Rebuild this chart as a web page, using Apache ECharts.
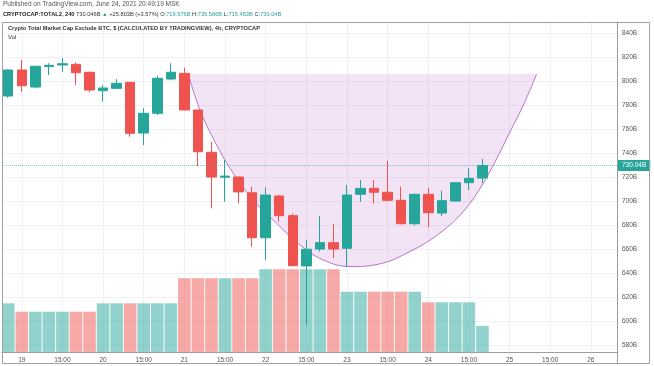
<!DOCTYPE html>
<html><head><meta charset="utf-8">
<script src="https://cdn.jsdelivr.net/npm/echarts@6/dist/echarts.min.js"></script>
<style>html,body{margin:0;padding:0;background:#fff}#c{width:654px;height:366px}</style>
</head><body><div id="c"></div>
<script>
// ---- data (4h bars, index 0 = first bar of Jun 19) ----
const barIndex = [-1,0,1,2,3,4,5,6,7,8,9,10,11,12,13,14,15,16,17,18,19,20,21,22,23,24,25,26,27,28,29,30,31,32,33,34];
const opens  = [787.9,809.6,795.4,812.5,813.8,814.3,807.7,792.3,794.3,799.3,757.1,773.5,802.1,806.8,776.3,741.0,720.3,720.4,707.3,669.8,704.6,688.2,646.3,660.4,665.7,661.0,706.0,711.0,707.7,701.0,681.5,706.0,690.4,700.4,715.7,719.58];
const closes = [809.6,796.5,812.7,813.5,814.8,807.3,792.9,794.6,798.5,756.8,773.5,802.7,807.7,776.3,741.5,720.4,721.2,708.0,669.8,705.4,688.2,646.5,660.2,665.7,660.4,705.4,711.0,707.7,701.0,681.5,706.0,690.7,700.7,715.7,719.3,730.05];
const lows   = [786.5,791.5,794.3,805.4,807.9,797.1,791.0,783.2,794.3,754.0,747.1,772.0,801.0,776.0,729.6,694.3,699.8,698.5,662.3,651.3,683.2,646.0,597.0,658.2,652.7,645.7,699.8,698.5,700.0,681.0,680.0,678.5,687.9,700.0,709.6,715.45];
const highs  = [810.0,817.9,813.2,815.2,819.6,816.0,808.2,797.1,802.0,799.5,777.7,804.8,815.2,811.5,776.3,749.8,734.6,721.0,712.3,711.8,705.4,690.0,667.9,687.9,681.3,713.8,717.9,717.9,734.0,712.3,706.5,711.5,709.0,716.0,727.7,735.59];
const volumes = [48.7,40.3,40.3,40.3,40.3,40.3,40.3,48.7,48.7,48.7,48.7,48.7,48.7,73.7,73.7,73.7,73.7,73.7,73.7,82.7,82.7,82.7,82.7,82.7,82.7,60.3,60.3,60.3,60.3,60.3,60.3,49.7,49.7,49.7,49.7,26.0];
const tickIndex  = [0,3,6,9,12,15,18,21,24,27,30,33,36,39,42];
const tickLabels = ['19','15:00','20','15:00','21','15:00','22','15:00','23','15:00','24','15:00','25','15:00','26'];
const priceTicks = [580,600,620,640,660,680,700,720,740,760,780,800,820,840];
// cup drawing, points (bar index, price)
const cupIdx = [12.29,13.15,14.38,15.61,17.08,18.81,20.53,22.25,24.22,26.21,28.87,30.86,32.56,33.89,35.0,36.10,37.06,38.0];
const cupVal = [806.25,776.3,747.1,723.5,701.3,681.8,663.8,651.3,645.8,647.5,659.6,673.8,691.3,712.1,734.6,759.6,781.3,806.25];
const cupTop = 806.25;
const lastPrice = 730.048;
const lastPriceText = '730.04B';
const headerLine1 = 'Published on TradingView.com, June 24, 2021 20:49:19 MSK';
const symbolText = 'CRYPTOCAP:TOTAL2, 240';
const priceText = '730.046B';
const changeText = '+25.803B (+3.57%)';
const ohlcNames = ['O:','H:','L:','C:'];
const ohlcValues = ['719.576B','735.586B','715.453B','730.04B'];
const chartTitle = 'Crypto Total Market Cap Exclude BTC, $ (CALCULATED BY TRADINGVIEW), 4h, CRYPTOCAP';
const volTitle = 'Vol';

const UP = '#26a69a', DOWN = '#ef5350';
const UPV = 'rgba(38,166,154,0.5)', DOWNV = 'rgba(239,83,80,0.5)';
const FONT = '"Liberation Sans", Arial, sans-serif';

const candleData = barIndex.map((x,i)=>[x, opens[i], closes[i], lows[i], highs[i]]);
const volData = barIndex.map((x,i)=>({value:[x, volumes[i]], itemStyle:{color: closes[i]>=opens[i]?UPV:DOWNV}}));
const cupData = cupIdx.map((x,i)=>[x, cupVal[i]]);

const ohlcRich = ohlcNames.map((n,i)=>'{d|'+n+'}{g|'+ohlcValues[i]+'}').join(' ');

const chart = echarts.init(document.getElementById('c'), null, {renderer:'canvas'});
chart.setOption({
  animation:false,
  backgroundColor:'#fff',
  textStyle:{fontFamily:FONT},
  grid:{left:2, top:22, right:37, bottom:14, containLabel:false, outerBoundsMode:'none'},
  xAxis:{
    type:'value', min:-1.46, max:43.93,
    axisLine:{show:true, onZero:false, lineStyle:{color:'#9e9e9e', width:1}},
    axisTick:{show:false, customValues:tickIndex},
    axisLabel:{customValues:tickIndex, fontSize:6.5, color:'#555', margin:5, fontFamily:FONT,
      formatter:(v)=>{const k=tickIndex.indexOf(Math.round(v)); return k>=0?tickLabels[k]:'';}},
    splitLine:{show:true, lineStyle:{color:'#eef1f6', width:1}}
  },
  yAxis:[{
    type:'value', position:'right', min:574.6, max:849.6,
    axisLine:{show:true, onZero:false, lineStyle:{color:'#9e9e9e', width:1}},
    axisTick:{show:false, customValues:priceTicks},
    axisLabel:{customValues:priceTicks, fontSize:6.5, color:'#555', margin:5, fontFamily:FONT,
      formatter:(v)=>v+'B'},
    splitLine:{show:true, lineStyle:{color:'#eef1f6', width:1}}
  },{
    type:'value', min:0, max:330, show:false,
    axisLine:{show:false, onZero:false}, splitLine:{show:false}
  }],
  series:[
    {type:'bar', name:'Vol', xAxisIndex:0, yAxisIndex:1, data:volData, barWidth:12.6, z:1, clip:false},
    {type:'line', name:'cup', xAxisIndex:0, yAxisIndex:0, data:cupData, smooth:0.4, symbol:'none', z:2,
      lineStyle:{color:'#b873cf', width:1},
      areaStyle:{color:'rgba(186,104,200,0.25)', origin:cupTop}},
    {type:'candlestick', name:'TOTAL2', xAxisIndex:0, yAxisIndex:0, data:candleData,
      encode:{x:0, y:[1,2,3,4]}, barWidth:10, z:3, clip:false,
      itemStyle:{color:UP, color0:DOWN, borderColor:UP, borderColor0:DOWN, borderWidth:1},
      markLine:{silent:true, symbol:'none', animation:false,
        lineStyle:{color:'rgba(38,166,154,0.55)', type:'dotted', width:1},
        label:{show:true, position:'end', formatter:lastPriceText, backgroundColor:UP, color:'#fff',
          fontSize:6.5, padding:[2,4,2,4], distance:1, fontFamily:FONT},
        data:[{yAxis:lastPrice}]}
    }
  ],
  graphic:[
    {type:'rect', shape:{x:2.5, y:22.5, width:647, height:341}, style:{fill:'none', stroke:'#a0a0a0', lineWidth:1}, silent:true, z:10},
    {type:'line', shape:{x1:617.5, y1:352, x2:617.5, y2:364}, style:{stroke:'#a0a0a0', lineWidth:1}, silent:true, z:10},
    {type:'text', left:3, top:1, style:{text:headerLine1, fontSize:6.5, fill:'#555', fontFamily:FONT}, silent:true},
    {type:'text', left:3, top:11, silent:true, style:{
      text:'{b|'+symbolText+'} {d|'+priceText+'} {g|▲} {d|'+changeText+'} '+ohlcRich,
      fontSize:5.7, fontFamily:FONT,
      rich:{b:{fontWeight:'bold', fill:'#222', fontSize:5.7, fontFamily:FONT},
            d:{fill:'#333', fontSize:5.7, fontFamily:FONT},
            g:{fill:UP, fontSize:5.7, fontFamily:FONT}}}},
    {type:'text', left:8, top:25, style:{text:chartTitle, fontSize:5.7, fontWeight:'bold', fill:'#333', fontFamily:FONT}, silent:true, z:11},
    {type:'text', left:8, top:34, style:{text:volTitle, fontSize:6, fill:'#333', fontFamily:FONT}, silent:true, z:11}
  ]
});
</script></body></html>
